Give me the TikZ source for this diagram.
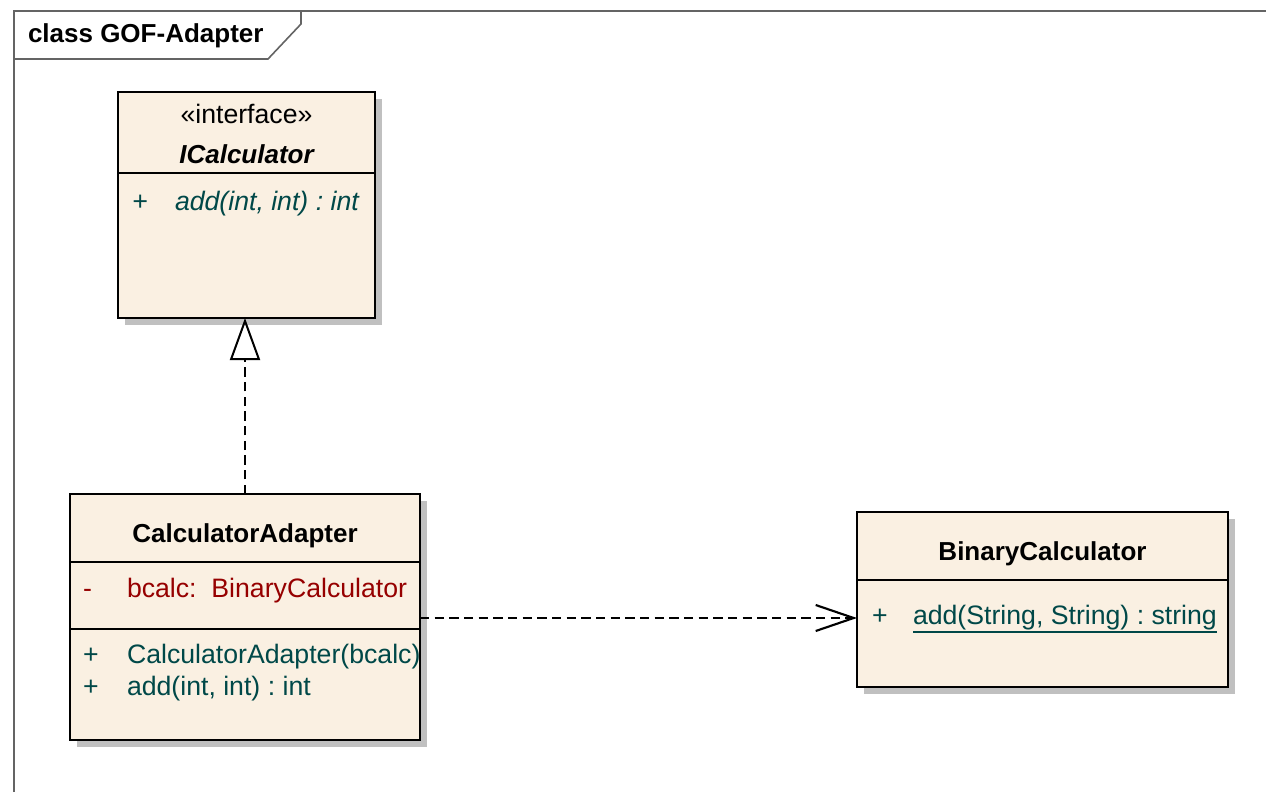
\documentclass[tikz,border=0pt]{standalone}
\usepackage{fontspec}
\setmainfont{Liberation Sans}
\usetikzlibrary{arrows.meta,shadows}
\definecolor{classfill}{RGB}{250,240,226}
\definecolor{shadowgray}{RGB}{192,192,192}
\definecolor{attrred}{RGB}{150,0,0}
\definecolor{opteal}{RGB}{0,72,72}
\definecolor{framegray}{RGB}{100,100,100}
\frenchspacing

\begin{document}
\begin{tikzpicture}[x=0.75pt,y=-0.75pt,
  classbox/.style={draw=black, line width=1.5pt, fill=classfill, anchor=north west,
    inner sep=0pt, outer sep=0pt,
    general shadow={fill=shadowgray, shadow xshift=5.25pt, shadow yshift=-5.25pt}},
  divider/.style={draw=black, line width=1.5pt},
  txt/.style={inner sep=0pt, outer sep=0pt, font=\fontsize{20}{24}\selectfont},
  ttl/.style={inner sep=0pt, outer sep=0pt, font=\fontsize{19.5}{24}\selectfont\bfseries},
  attr/.style={txt, text=attrred, anchor=base west},
  oper/.style={txt, text=opteal, anchor=base west},
  depline/.style={line width=1.6pt, dash pattern=on 7pt off 4pt},
  framepen/.style={draw=framegray, line width=1.2pt}
]
\useasboundingbox (0,0) rectangle (1266,792);

% diagram frame and its name tab
\draw[framepen] (14,792) -- (14,11) -- (1266,11);
\draw[framepen, fill=white] (14,11) -- (301,11) -- (301,24) -- (268,59) -- (14,59) -- cycle;
\node[ttl, anchor=base west] (frametitle) at (28,43) {class GOF-Adapter};

% interface ICalculator
\node[classbox, minimum width=192.75pt, minimum height=169.5pt] (icalc) at (118,92) {};
\draw[divider] (icalc.west |- 0,173) -- (icalc.east |- 0,173);
\node[txt, anchor=base] (icalcstereo) at (246.5,123) {«interface»};
\node[ttl, anchor=base] (icalcname) at (246.5,163) {\itshape ICalculator};
\node[oper, font=\fontsize{20}{24}\selectfont\itshape] (icalcvis) at (132,210) {+};
\node[oper, font=\fontsize{20}{24}\selectfont\itshape] (icalcop) at (175,210) {add(int, int) : int};

% class CalculatorAdapter
\node[classbox, minimum width=262.5pt, minimum height=184.5pt] (adapter) at (70,494) {};
\draw[divider] (adapter.west |- 0,562) -- (adapter.east |- 0,562);
\draw[divider] (adapter.west |- 0,629) -- (adapter.east |- 0,629);
\node[ttl, anchor=base] (adaptername) at (245,542) {CalculatorAdapter};
\node[attr] (adapterattrvis) at (83,597) {-};
\node[attr] (adapterattr) at (127,597) {bcalc:\ \ BinaryCalculator};
\node[oper] (adaptervisa) at (83,663) {+};
\node[oper] (adapteropa) at (127,663) {CalculatorAdapter(bcalc)};
\node[oper] (adaptervisb) at (83,695) {+};
\node[oper] (adapteropb) at (127,695) {add(int, int) : int};

% class BinaryCalculator
\node[classbox, minimum width=278.25pt, minimum height=131.25pt] (binary) at (857,512) {};
\draw[divider] (binary.west |- 0,580) -- (binary.east |- 0,580);
\node[ttl, anchor=base] (binaryname) at (1042.5,560) {BinaryCalculator};
\node[oper] (binaryvis) at (872,624) {+};
\node[oper] (binaryop) at (913,624) {add(String, String) : string};
\draw[opteal, line width=1.3pt] ([yshift=-6pt]binaryop.base west) -- ([yshift=-6pt]binaryop.base east);

% realization: CalculatorAdapter implements ICalculator
\draw[depline, -{Triangle[open, length=31.5pt, width=22.5pt, line width=1.5pt]}]
  (adapter.north) -- (adapter.north |- icalc.south);

% dependency: CalculatorAdapter uses BinaryCalculator
\coordinate (depstart) at (adapter.east |- 0,618);
\draw[depline, -{Straight Barb[length=28.5pt, width=19.5pt, line width=1.6pt]}]
  (depstart) -- (depstart -| binary.west);
\end{tikzpicture}
\end{document}
